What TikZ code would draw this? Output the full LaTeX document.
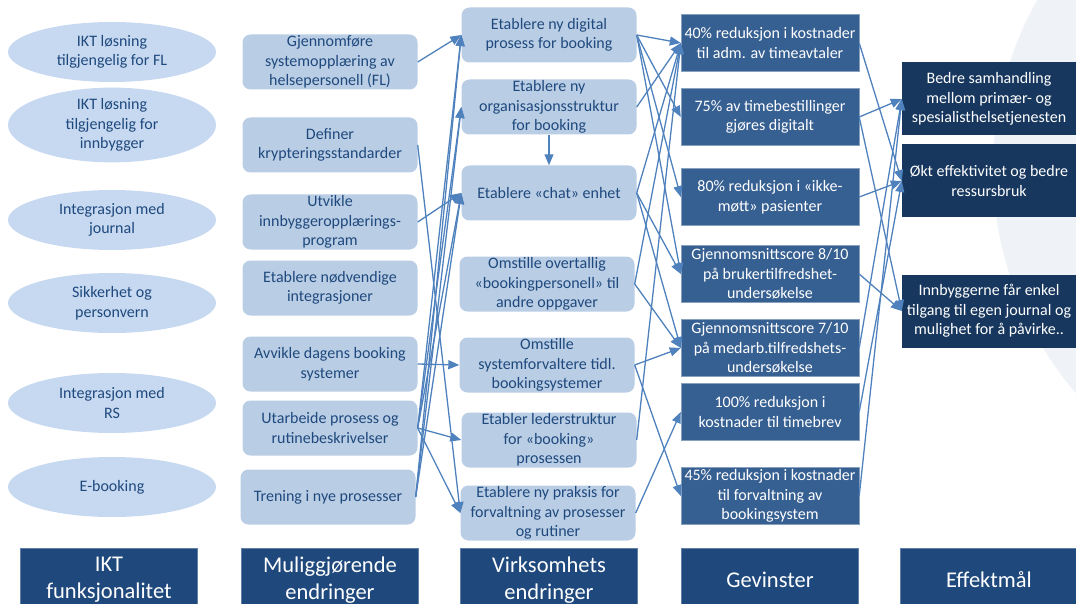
\documentclass[tikz,border=0pt]{standalone}
\usepackage{fontspec}
\setmainfont{Carlito}
\usetikzlibrary{shapes.geometric}
\usetikzlibrary{positioning}
\usetikzlibrary{arrows.meta}

\definecolor{iktfarge}{HTML}{C6D9F1}
\definecolor{boksfarge}{HTML}{B9CDE5}
\definecolor{tekstfarge}{HTML}{1F497D}
\definecolor{gevinstfarge}{HTML}{376092}
\definecolor{effektfarge}{HTML}{17375E}
\definecolor{toppfarge}{HTML}{1F497D}
\definecolor{pilfarge}{HTML}{4F81BD}
\definecolor{bakfarge}{HTML}{EFF3F8}

\tikzset{
  funk/.style={ellipse, fill=iktfarge, text=tekstfarge, align=center, minimum width=208pt, minimum height=60pt, inner sep=0pt, font=\fontsize{16}{19.5}\selectfont},
  endring/.style={rectangle, rounded corners=8pt, fill=boksfarge, text=tekstfarge, align=center, minimum width=175pt, minimum height=55pt, inner sep=0pt, font=\fontsize{16}{19.5}\selectfont},
  gevinst/.style={rectangle, fill=gevinstfarge, draw=gevinstfarge!60, text=white, align=center, minimum width=178pt, minimum height=57pt, inner sep=0pt, font=\fontsize{16}{19.5}\selectfont},
  effekt/.style={rectangle, fill=effektfarge, text=white, align=center, minimum width=174pt, minimum height=73pt, inner sep=0pt, font=\fontsize{16}{19.5}\selectfont},
  overskrift/.style={rectangle, fill=toppfarge, draw=toppfarge!70, text=white, align=center, minimum width=177pt, minimum height=64pt, inner sep=0pt, font=\fontsize{22.5}{27}\selectfont},
  pil/.style={draw=pilfarge, line width=1.3pt, -{Triangle[length=11pt,width=9pt]}}
}

\begin{document}
\begin{tikzpicture}[x=1pt,y=-1pt]
\useasboundingbox (0,0) rectangle (1076,604);
\begin{scope}
  \clip (0,0) rectangle (1076,604);
  \fill[bakfarge] (1338,169) circle (345pt);
\end{scope}

% IKT funksjonalitet
\node[funk] (e1) at (112,52) {IKT løsning\\tilgjengelig for FL};
\node[funk] (e2) at (112,125) {IKT løsning\\tilgjengelig for\\innbygger};
\node[funk] (e3) at (112,220) {Integrasjon med\\journal};
\node[funk] (e4) at (112,303) {Sikkerhet og\\personvern};
\node[funk] (e5) at (112,403) {Integrasjon med\\RS};
\node[funk] (e6) at (112,487) {E-booking};

% Muliggjørende endringer
\node[endring] (b1) at (330,62) {Gjennomføre\\systemopplæring av\\helsepersonell (FL)};
\node[endring] (b2) at (330,145) {Definer\\krypteringsstandarder};
\node[endring] (b3) at (330,222) {Utvikle\\innbyggeropplærings-\\program};
\node[endring] (b4) at (330,288) {Etablere nødvendige\\integrasjoner};
\node[endring] (b5) at (330,364) {Avvikle dagens booking\\systemer};
\node[endring] (b6) at (330,428) {Utarbeide prosess og\\rutinebeskrivelser};
\node[endring] (b7) at (328,497) {Trening i nye prosesser};

% Virksomhetsendringer
\node[endring] (c1) at (549,35) {Etablere ny digital\\prosess for booking};
\node[endring] (c2) at (549,107) {Etablere ny\\organisasjonsstruktur\\for booking};
\node[endring] (c3) at (549,193) {Etablere «chat» enhet};
\node[endring] (c4) at (547,284) {Omstille overtallig\\«bookingpersonell» til\\andre oppgaver};
\node[endring] (c5) at (547,365) {Omstille\\systemforvaltere tidl.\\bookingsystemer};
\node[endring] (c6) at (549,440) {Etabler lederstruktur\\for «booking»\\prosessen};
\node[endring] (c7) at (548,513) {Etablere ny praksis for\\forvaltning av prosesser\\og rutiner};

% Gevinster
\node[gevinst] (d1) at (770,43) {40\% reduksjon i kostnader\\til adm. av timeavtaler};
\node[gevinst] (d2) at (770,117) {75\% av timebestillinger\\gjøres digitalt};
\node[gevinst] (d3) at (770,197) {80\% reduksjon i «ikke-\\møtt» pasienter};
\node[gevinst] (d4) at (770,274) {Gjennomsnittscore 8/10\\på brukertilfredshet-\\undersøkelse};
\node[gevinst] (d5) at (770,348) {Gjennomsnittscore 7/10\\på medarb.tilfredshets-\\undersøkelse};
\node[gevinst] (d6) at (770,412) {100\% reduksjon i\\kostnader til timebrev};
\node[gevinst] (d7) at (770,496) {45\% reduksjon i kostnader\\til forvaltning av\\bookingsystem};

% Effektmål
\node[effekt] (f1) at (989,99) {Bedre samhandling\\mellom primær- og\\spesialisthelsetjenesten};
\node[effekt] (f2) at (989,181) {Økt effektivitet og bedre\\ressursbruk};
\node[effekt] (f3) at (989,311) {Innbyggerne får enkel\\tilgang til egen journal og\\mulighet for å påvirke..};

% overskrifter
\node[overskrift] (h1) at (109,580) {IKT\\funksjonalitet};
\node[overskrift] (h2) at (330,580) {Muliggjørende\\endringer};
\node[overskrift] (h3) at (549,580) {Virksomhets\\endringer};
\node[overskrift] (h4) at (770,580) {Gevinster};
\node[overskrift] (h5) at (989,580) {Effektmål};

% muliggjørende -> virksomhet
\draw[pil] (b1.east) -- (c1.west);
\draw[pil] (b3.east) -- (c3.west);
\draw[pil] (b5.east) -- (c5.west);
\draw[pil] (b2.east) -- (c7.west);
\foreach \m in {c1,c2,c3,c6,c7}
  \draw[pil] (b6.east) -- (\m.west);
\foreach \m in {c1,c2,c3}
  \draw[pil] (b7.east) -- (\m.west);
\draw[pil] (c2.south) -- (c3.north);

% virksomhet -> gevinster
\foreach \g in {d1,d2,d3,d4}
  \draw[pil] (c1.east) -- (\g.west);
\draw[pil] (c2.east) -- (d1.west);
\draw[pil] (c3.east) -- (d1.west);
\draw[pil] (c3.east) -- (d4.west);
\draw[pil] (c3.east) -- (d5.west);
\draw[pil] (c4.east) -- (d1.west);
\draw[pil] (c4.east) -- (d5.west);
\draw[pil] (c5.east) -- (d5.west);
\draw[pil] (c5.east) -- (d7.west);
\draw[pil] (c6.east) -- (d1.west);
\draw[pil] (c7.east) -- (d6.west);

% gevinster -> effektmål
\draw[pil] (d1.east) -- (f2.west);
\draw[pil] (d2.east) -- (f1.west);
\draw[pil] (d2.east) -- (f3.west);
\draw[pil] (d3.east) -- (f2.west);
\draw[pil] (d4.east) -- (f3.west);
\draw[pil] (d5.east) -- (f1.west);
\draw[pil] (d6.east) -- (f2.west);
\draw[pil] (d7.east) -- (f1.west);
\end{tikzpicture}
\end{document}
